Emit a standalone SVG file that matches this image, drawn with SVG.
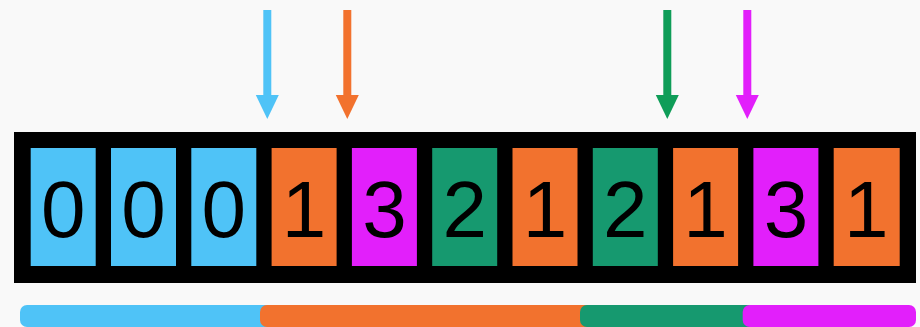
<svg xmlns="http://www.w3.org/2000/svg" width="920" height="327" viewBox="0 0 920 327">
<style>
.cell{stroke:none}
.blue{fill:#4FC3F7}
.orange{fill:#F2722E}
.green{fill:#16996F}
.magenta{fill:#E21FFB}
.digit{font-family:"Liberation Sans",Arial,sans-serif;font-size:80px;fill:#000;text-anchor:middle}
.arrow{stroke-width:8;fill:none}
</style>
<defs>
<marker id="hb" markerUnits="userSpaceOnUse" markerWidth="24" markerHeight="24" refX="0" refY="11.5" orient="auto"><path d="M0,0 L24,11.5 L0,23 z" fill="#4FC3F7"/></marker>
<marker id="ho" markerUnits="userSpaceOnUse" markerWidth="24" markerHeight="24" refX="0" refY="11.5" orient="auto"><path d="M0,0 L24,11.5 L0,23 z" fill="#F2722E"/></marker>
<marker id="hg" markerUnits="userSpaceOnUse" markerWidth="24" markerHeight="24" refX="0" refY="11.5" orient="auto"><path d="M0,0 L24,11.5 L0,23 z" fill="#0F9D58"/></marker>
<marker id="hm" markerUnits="userSpaceOnUse" markerWidth="24" markerHeight="24" refX="0" refY="11.5" orient="auto"><path d="M0,0 L24,11.5 L0,23 z" fill="#E21FFB"/></marker>
</defs>
<rect width="920" height="327" fill="#F9F9F9"/>
<g id="frame"><rect x="14" y="132" width="902" height="151" fill="#000"/></g>
<g id="cell0"><rect class="cell blue" x="30.7" y="148" width="65" height="118"/><text class="digit" x="63.2" y="237">0</text></g>
<g id="cell1"><rect class="cell blue" x="111" y="148" width="65" height="118"/><text class="digit" x="143.5" y="237">0</text></g>
<g id="cell2"><rect class="cell blue" x="191.3" y="148" width="65" height="118"/><text class="digit" x="223.8" y="237">0</text></g>
<g id="cell3"><rect class="cell orange" x="271.6" y="148" width="65" height="118"/><text class="digit" x="304.1" y="237">1</text></g>
<g id="cell4"><rect class="cell magenta" x="351.9" y="148" width="65" height="118"/><text class="digit" x="384.4" y="237">3</text></g>
<g id="cell5"><rect class="cell green" x="432.2" y="148" width="65" height="118"/><text class="digit" x="464.7" y="237">2</text></g>
<g id="cell6"><rect class="cell orange" x="512.5" y="148" width="65" height="118"/><text class="digit" x="545" y="237">1</text></g>
<g id="cell7"><rect class="cell green" x="592.8" y="148" width="65" height="118"/><text class="digit" x="625.3" y="237">2</text></g>
<g id="cell8"><rect class="cell orange" x="673.1" y="148" width="65" height="118"/><text class="digit" x="705.6" y="237">1</text></g>
<g id="cell9"><rect class="cell magenta" x="753.4" y="148" width="65" height="118"/><text class="digit" x="785.9" y="237">3</text></g>
<g id="cell10"><rect class="cell orange" x="833.7" y="148" width="66" height="118"/><text class="digit" x="866.2" y="237">1</text></g>
<g id="connectors">
<line class="arrow" x1="267.3" y1="10" x2="267.3" y2="95" stroke="#4FC3F7" marker-end="url(#hb)"/>
<line class="arrow" x1="347.3" y1="10" x2="347.3" y2="95" stroke="#F2722E" marker-end="url(#ho)"/>
<line class="arrow" x1="667.3" y1="10" x2="667.3" y2="95" stroke="#0F9D58" marker-end="url(#hg)"/>
<line class="arrow" x1="747.3" y1="10" x2="747.3" y2="95" stroke="#E21FFB" marker-end="url(#hm)"/>
</g>
<g id="bars">
<rect class="blue" x="20" y="305" width="260" height="22" rx="7"/>
<rect class="orange" x="260" y="305" width="340" height="22" rx="7"/>
<rect class="green" x="580" y="305" width="180" height="22" rx="7"/>
<rect class="magenta" x="742.7" y="305" width="173.3" height="22" rx="7"/>
</g>
</svg>
